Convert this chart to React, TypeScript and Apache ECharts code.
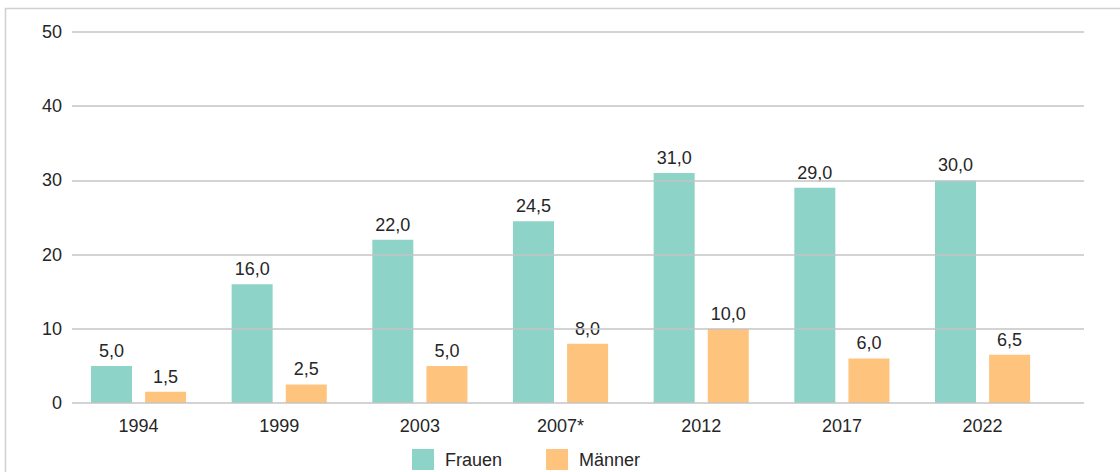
import React, { useEffect, useRef } from "react";
import * as echarts from "echarts";

const categories = ["1994", "1999", "2003", "2007*", "2012", "2017", "2022"];
const frauen = [5.0, 16.0, 22.0, 24.5, 31.0, 29.0, 30.0];
const maenner = [1.5, 2.5, 5.0, 8.0, 10.0, 6.0, 6.5];
const seriesNames = ["Frauen", "Männer"];
const yMin = 0;
const yMax = 50;
const yInterval = 10;

const FONT = "'Liberation Sans', Arial, sans-serif";
const FS = 18;
const TEXT = "#262626";
const TEAL = "#8dd3c7";
const ORANGE = "#fec47d";

const fmt = (v: number) => v.toFixed(1).replace(".", ",");

export default function App() {
  const ref = useRef<HTMLDivElement>(null);
  useEffect(() => {
    document.body.style.margin = "0";
    if (!ref.current) return;
    const chart = echarts.init(ref.current, undefined, { renderer: "svg" });
    const label = {
      show: true,
      position: "top" as const,
      distance: 6,
      fontFamily: FONT,
      fontSize: FS,
      color: TEXT,
      formatter: (p: any) => fmt(p.value),
    };
    chart.setOption({
      animation: false,
      backgroundColor: "#ffffff",
      textStyle: { fontFamily: FONT },
      graphic: [
        {
          type: "rect",
          shape: { x: 5.5, y: 8.5, width: 1200, height: 600 },
          style: { fill: "none", stroke: "#d0d0d0", lineWidth: 1.5 },
          silent: true,
          z: -10,
        },
      ],
      legend: {
        left: 412,
        top: 449,
        padding: 0,
        itemWidth: 22,
        itemHeight: 21,
        itemGap: 44,
        icon: "rect",
        textStyle: { fontFamily: FONT, fontSize: FS, color: TEXT, padding: [0, 0, 0, 6] },
        data: seriesNames,
      },
      grid: [
        { left: 68.2, width: 984.7, top: 32, height: 371 },
        { left: 72, right: 36, top: 32, height: 371 },
      ],
      xAxis: [
        {
          type: "category",
          gridIndex: 0,
          data: categories,
          axisLine: { show: false },
          axisTick: { show: false },
          axisLabel: { fontFamily: FONT, fontSize: FS, color: TEXT, margin: 14 },
        },
        {
          type: "category",
          gridIndex: 1,
          data: categories,
          show: false,
        },
      ],
      yAxis: [
        {
          type: "value",
          gridIndex: 0,
          min: yMin,
          max: yMax,
          interval: yInterval,
          show: false,
          splitLine: { show: false },
        },
        {
          type: "value",
          gridIndex: 1,
          min: yMin,
          max: yMax,
          interval: yInterval,
          z: 5,
          axisLine: { show: false },
          axisTick: { show: false },
          axisLabel: { fontFamily: FONT, fontSize: FS, color: TEXT, margin: 10 },
          splitLine: { show: true, lineStyle: { color: "#c4c4c4", width: 1.5 } },
        },
      ],
      series: [
        {
          name: seriesNames[0],
          type: "bar",
          xAxisIndex: 0,
          yAxisIndex: 0,
          data: frauen,
          barWidth: 41,
          barGap: "32%",
          itemStyle: { color: TEAL },
          label,
        },
        {
          name: seriesNames[1],
          type: "bar",
          xAxisIndex: 0,
          yAxisIndex: 0,
          data: maenner,
          barWidth: 41,
          barGap: "32%",
          itemStyle: { color: ORANGE },
          label,
        },
        {
          type: "bar",
          xAxisIndex: 1,
          yAxisIndex: 1,
          data: [],
          silent: true,
        },
      ],
    });
    return () => chart.dispose();
  }, []);
  return <div ref={ref} style={{ width: 1120, height: 472 }} />;
}
